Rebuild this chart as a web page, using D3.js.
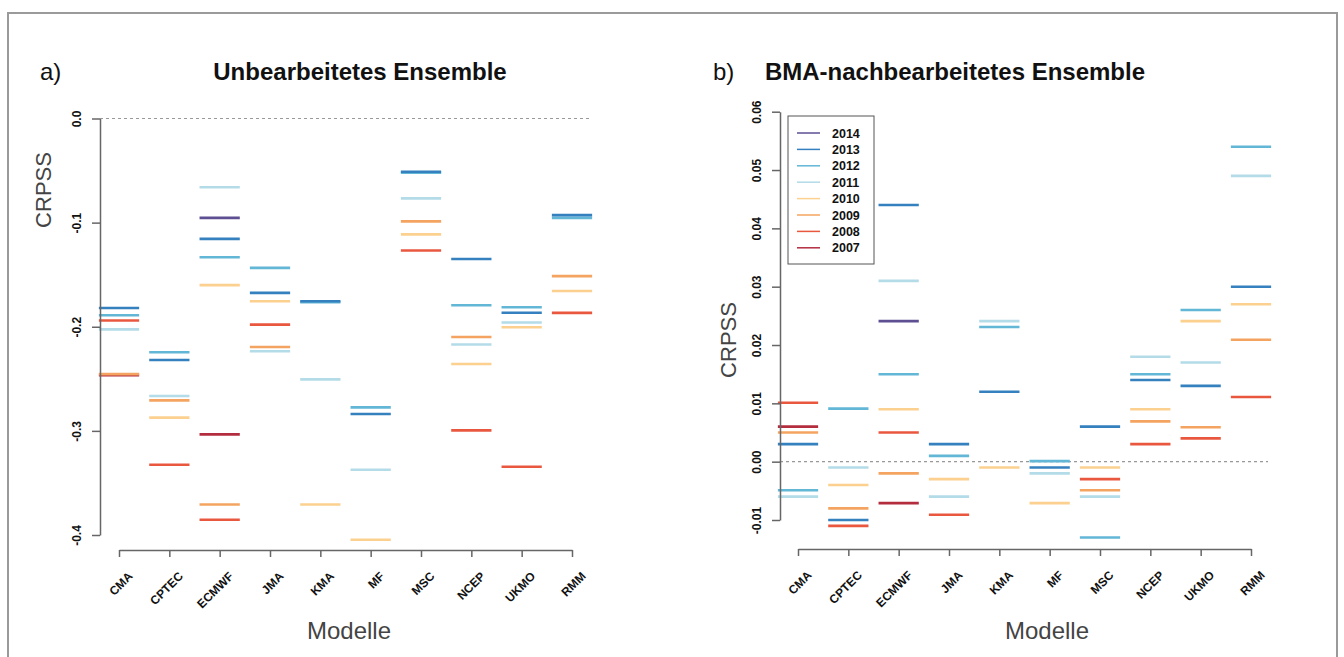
<!DOCTYPE html>
<html>
<head>
<meta charset="utf-8">
<script src="https://cdn.jsdelivr.net/npm/d3@7/dist/d3.min.js"></script>
<style>
  html, body { margin: 0; padding: 0; background: #fff; }
  svg { display: block; font-family: "Liberation Sans", Arial, Helvetica, sans-serif; }
</style>
</head>
<body>
<svg id="chart" width="1344" height="657"></svg>
<script>
// ---------- data ----------
const models = ["CMA", "CPTEC", "ECMWF", "JMA", "KMA", "MF", "MSC", "NCEP", "UKMO", "RMM"];
const years = ["2014", "2013", "2012", "2011", "2010", "2009", "2008", "2007"];
const yearColors = ["#5e4f93", "#3580bf", "#62b6d6", "#b3dbe8", "#fcd08f", "#f4a460", "#e9573f", "#b32d3f"];

// a) raw ensemble CRPSS, one array per year (order of models)
const raw2014 = [null, null, -0.0954, null, null, null, null, null, null, null];
const raw2013 = [-0.182, -0.232, -0.1156, -0.1675, -0.1755, -0.2838, -0.0511, -0.135, -0.1865, -0.0928];
const raw2012 = [-0.189, -0.2245, -0.1332, -0.1435, -0.1765, -0.2774, -0.052, -0.1793, -0.1813, -0.0954];
const raw2011 = [-0.2025, -0.2665, -0.066, -0.2236, -0.2505, -0.3373, -0.0767, -0.2171, -0.1959, null];
const raw2010 = [null, -0.2873, -0.160, -0.1755, -0.3707, -0.4046, -0.1113, -0.2358, -0.2005, -0.1656];
const raw2009 = [-0.2455, -0.2707, -0.3707, -0.2194, null, null, -0.0988, -0.2098, null, -0.1514];
const raw2008 = [-0.194, -0.3325, -0.3854, -0.198, null, null, -0.1267, -0.2995, -0.3344, -0.1867];
const raw2007 = [-0.2465, null, -0.3034, null, null, null, null, null, null, null];

// b) BMA post-processed CRPSS
const bma2014 = [null, null, 0.0241, null, null, null, null, null, null, null];
const bma2013 = [0.003, -0.010, 0.044, 0.003, 0.012, -0.001, 0.006, 0.014, 0.013, 0.030];
const bma2012 = [-0.0049, 0.0091, 0.015, 0.001, 0.0231, 0.0001, -0.013, 0.015, 0.026, 0.054];
const bma2011 = [-0.006, -0.001, 0.031, -0.006, 0.0241, -0.002, -0.006, 0.018, 0.017, 0.049];
const bma2010 = [null, -0.004, 0.009, -0.003, -0.001, -0.0071, -0.001, 0.009, 0.0241, 0.027];
const bma2009 = [0.005, -0.008, -0.002, null, null, null, -0.0049, 0.0069, 0.0059, 0.0209];
const bma2008 = [0.0101, -0.011, 0.005, -0.0091, null, null, -0.003, 0.003, 0.004, 0.0111];
const bma2007 = [0.006, null, -0.0071, null, null, null, null, null, null, null];

const rawTicks = [0, -0.1, -0.2, -0.3, -0.4];
const rawTickLabels = ["0.0", "-0.1", "-0.2", "-0.3", "-0.4"];
const bmaTicks = [-0.01, 0, 0.01, 0.02, 0.03, 0.04, 0.05, 0.06];
const bmaTickLabels = ["-0.01", "0.00", "0.01", "0.02", "0.03", "0.04", "0.05", "0.06"];

const rawSeries = [raw2014, raw2013, raw2012, raw2011, raw2010, raw2009, raw2008, raw2007];
const bmaSeries = [bma2014, bma2013, bma2012, bma2011, bma2010, bma2009, bma2008, bma2007];

// ---------- drawing ----------
const svg = d3.select("#chart");
const axisColor = "#666";

// outer frame
svg.append("rect").attr("x", 8).attr("y", 13).attr("width", 1329).attr("height", 660)
  .attr("fill", "none").attr("stroke", "#9a9a9a").attr("stroke-width", 2);

function panel(cfg) {
  const g = svg.append("g");
  const x = d3.scalePoint().domain(models).range(cfg.xRange);
  const y = d3.scaleLinear().domain(cfg.yDomain).range(cfg.yRange);
  const half = x.step() * 0.4;

  // zero reference line
  g.append("line")
    .attr("x1", cfg.axisX).attr("x2", cfg.zeroEnd)
    .attr("y1", y(0)).attr("y2", y(0))
    .attr("stroke", "#999").attr("stroke-width", 1.2).attr("stroke-dasharray", "3,3");

  // segments: draw from oldest to newest
  for (let k = years.length - 1; k >= 0; k--) {
    const vals = cfg.series[k];
    const pts = models.map((m, i) => ({ m, v: vals[i] })).filter(d => d.v !== null);
    g.selectAll(null).data(pts).enter().append("line")
      .attr("x1", d => x(d.m) - half).attr("x2", d => x(d.m) + half)
      .attr("y1", d => y(d.v)).attr("y2", d => y(d.v))
      .attr("stroke", yearColors[k]).attr("stroke-width", 2.6);
  }

  // y axis
  const ya = g.append("g").attr("transform", `translate(${cfg.axisX},0)`)
    .call(d3.axisLeft(y).tickValues(cfg.ticks).tickSize(8).tickSizeOuter(0)
      .tickFormat((d, i) => cfg.tickLabels[i]));
  ya.select(".domain").attr("stroke", axisColor).attr("stroke-width", 1.5);
  ya.selectAll(".tick line").attr("stroke", axisColor).attr("stroke-width", 1.5);
  ya.selectAll(".tick text")
    .attr("x", 0).attr("dy", 0)
    .attr("transform", "translate(-19,0) rotate(-90)")
    .attr("text-anchor", "middle")
    .attr("fill", "#111")
    .style("font-size", "12px").style("font-weight", "bold")
    .style("font-family", "'Liberation Sans', Arial, sans-serif");

  // x axis
  const xa = g.append("g").attr("transform", `translate(0,${cfg.axisY})`)
    .call(d3.axisBottom(x).tickSize(7).tickSizeOuter(0));
  xa.select(".domain").attr("stroke", axisColor).attr("stroke-width", 1.5);
  xa.selectAll(".tick line").attr("stroke", axisColor).attr("stroke-width", 1.5);
  xa.selectAll(".tick text")
    .attr("x", 0).attr("y", 0).attr("dy", "0.35em")
    .attr("transform", "translate(11,24) rotate(-45)")
    .attr("text-anchor", "end")
    .attr("fill", "#111")
    .style("font-size", "12px").style("font-weight", "bold")
    .style("font-family", "'Liberation Sans', Arial, sans-serif");

  // labels
  svg.append("text").attr("x", cfg.letterX).attr("y", 80)
    .attr("font-size", 24).attr("fill", "#111").text(cfg.letter);
  svg.append("text").attr("x", cfg.titleX).attr("y", 80)
    .attr("text-anchor", "middle").attr("font-size", 24).attr("font-weight", "bold")
    .attr("fill", "#111").text(cfg.title);
  svg.append("text").attr("transform", `translate(${cfg.ylabX},${cfg.ylabY}) rotate(-90)`)
    .attr("text-anchor", "middle").attr("font-size", 22).attr("fill", "#444").text("CRPSS");
  svg.append("text").attr("x", cfg.xlabX).attr("y", 639)
    .attr("text-anchor", "middle").attr("font-size", 24).attr("fill", "#444").text("Modelle");
  return { g, x, y };
}

panel({
  xRange: [119, 572], yDomain: [-0.4, 0], yRange: [535, 118.5],
  axisX: 100, axisY: 550, zeroEnd: 590,
  series: rawSeries, ticks: rawTicks, tickLabels: rawTickLabels,
  letter: "a)", letterX: 40, title: "Unbearbeitetes Ensemble", titleX: 360,
  ylabX: 51, ylabY: 190, xlabX: 349
});

panel({
  xRange: [798, 1251], yDomain: [-0.01, 0.06], yRange: [520, 111.7],
  axisX: 780, axisY: 549, zeroEnd: 1268,
  series: bmaSeries, ticks: bmaTicks, tickLabels: bmaTickLabels,
  letter: "b)", letterX: 713, title: "BMA-nachbearbeitetes Ensemble", titleX: 955,
  ylabX: 736, ylabY: 340, xlabX: 1047
});

// legend
const leg = svg.append("g");
leg.append("rect").attr("x", 788).attr("y", 116).attr("width", 86).attr("height", 148)
  .attr("fill", "#fff").attr("stroke", "#555").attr("stroke-width", 1);
years.forEach((yr, i) => {
  const yy = 133 + i * 16.4;
  leg.append("line").attr("x1", 797).attr("x2", 820).attr("y1", yy).attr("y2", yy)
    .attr("stroke", yearColors[i]).attr("stroke-width", 1.5);
  leg.append("text").attr("x", 832).attr("y", yy + 4.5)
    .attr("font-size", 12.5).attr("font-weight", "bold").attr("fill", "#111").text(yr);
});
</script>
</body>
</html>
